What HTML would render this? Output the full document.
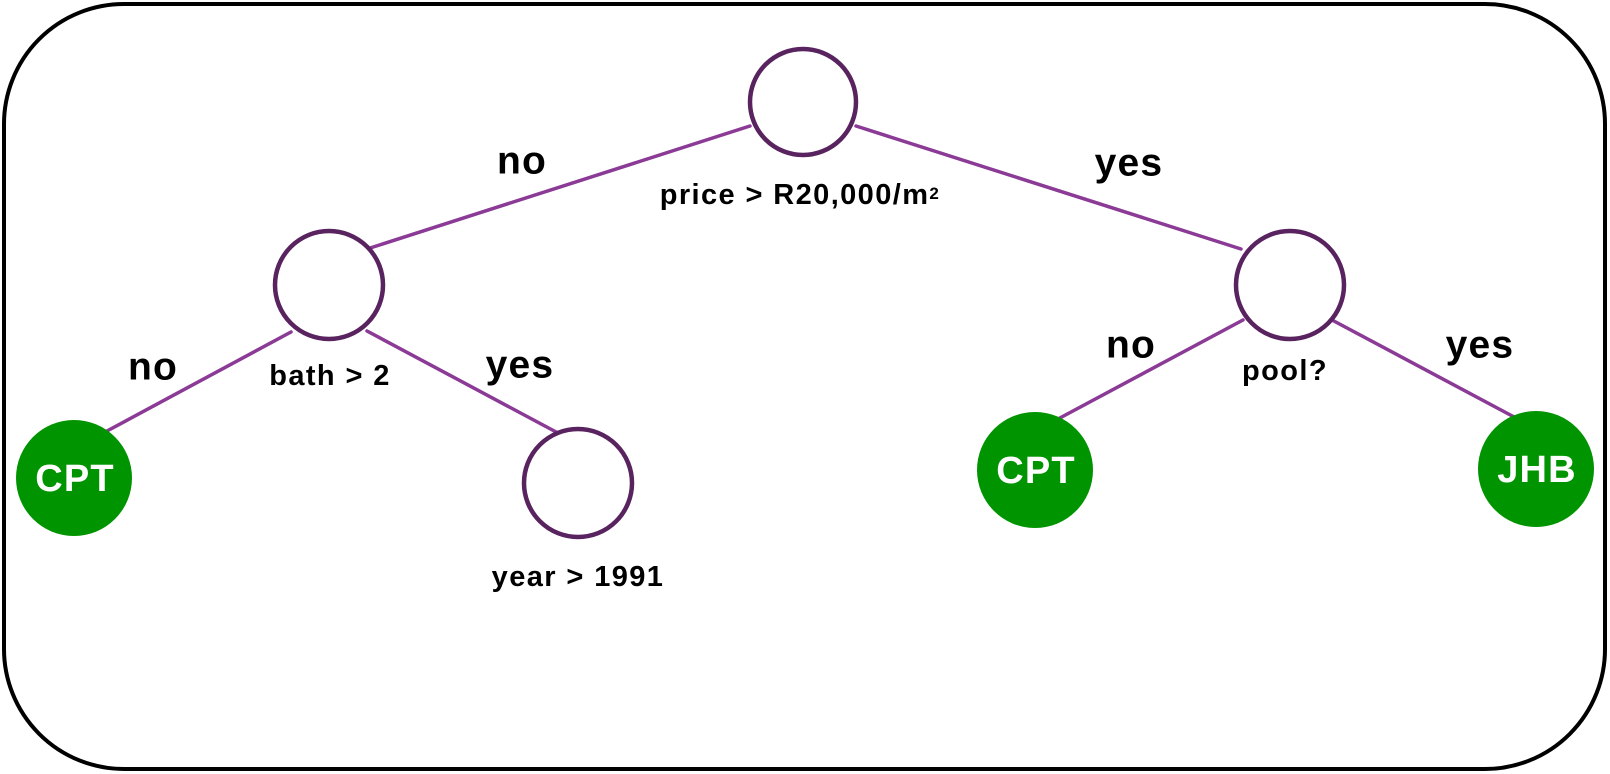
<!DOCTYPE html>
<html><head><meta charset="utf-8"><style>
html,body{margin:0;padding:0;background:#fff;}
svg{display:block;}
text{font-family:"Liberation Sans",Arial,sans-serif;font-weight:bold;text-anchor:middle;dominant-baseline:central;}
</style></head><body>
<svg width="1610" height="774" viewBox="0 0 1610 774" xmlns="http://www.w3.org/2000/svg">
<rect x="4" y="4" width="1601" height="765" rx="120" ry="120" fill="#fff" stroke="#000" stroke-width="4"/>
<g stroke="#8b3a96" stroke-width="3.5" stroke-linecap="round">
<line x1="750" y1="126" x2="367" y2="249"/>
<line x1="856" y1="126" x2="1241" y2="249"/>
<line x1="291" y1="332" x2="107" y2="431"/>
<line x1="367" y1="331" x2="558" y2="433"/>
<line x1="1243" y1="320" x2="1058" y2="419"/>
<line x1="1332" y1="320" x2="1516" y2="418"/>
</g>
<g fill="#fff" stroke="#58235e" stroke-width="4.5">
<circle cx="803" cy="102" r="53"/>
<circle cx="329" cy="285" r="54"/>
<circle cx="1290" cy="285" r="54"/>
<circle cx="578" cy="483" r="54"/>
</g>
<g fill="#009400">
<circle cx="74" cy="478" r="58"/>
<circle cx="1035" cy="470" r="58"/>
<circle cx="1536" cy="469" r="58"/>
</g>
<g fill="#fff" font-size="38" letter-spacing="1.2">
<text x="75" y="479">CPT</text>
<text x="1036" y="471">CPT</text>
<text x="1537" y="470">JHB</text>
</g>
<g fill="#000" font-size="39" letter-spacing="1.2">
<text x="522" y="161">no</text>
<text x="1129" y="163">yes</text>
<text x="153" y="367">no</text>
<text x="520" y="365">yes</text>
<text x="1131" y="345">no</text>
<text x="1480" y="345">yes</text>
</g>
<g fill="#000" font-size="29" letter-spacing="1.4">
<text x="800" y="195">price &gt; R20,000/m<tspan font-size="17" dy="-2">2</tspan></text>
<text x="330" y="376">bath &gt; 2</text>
<text x="578" y="577">year &gt; 1991</text>
<text x="1285" y="371">pool?</text>
</g>
</svg>
</body></html>
